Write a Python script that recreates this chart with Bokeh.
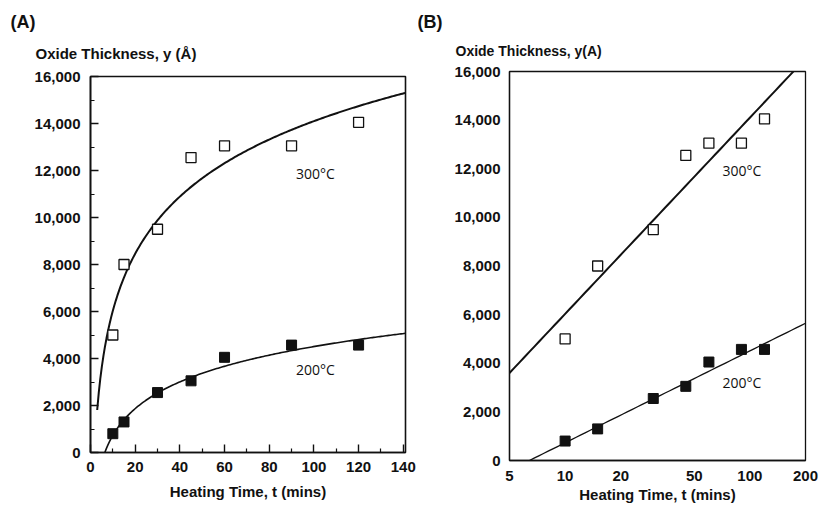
import numpy as np
from bokeh.plotting import figure
from bokeh.models import Range1d, Label, Title, FixedTicker, NumeralTickFormatter, PrintfTickFormatter
from bokeh.embed import file_html
from bokeh.resources import INLINE

# ---- data ----
time_min = [10, 15, 30, 45, 60, 90, 120]
thick_300 = [5000, 8000, 9500, 12550, 13050, 13050, 14050]
thick_200 = [800, 1300, 2550, 3050, 4050, 4570, 4570]

# logarithmic fits  y = a + b*ln(t)
fit_300_a, fit_300_b = -2041.0, 3505.0
fit_200_a, fit_200_b = -3049.0, 1641.0
fit_300_tstart = 3.0
fit_200_tstart = 6.41

y_ticks = [0, 2000, 4000, 6000, 8000, 10000, 12000, 14000, 16000]
y_minor = [1000, 3000, 5000, 7000, 9000, 11000, 13000, 15000]
xa_ticks = [0, 20, 40, 60, 80, 100, 120, 140]
xa_minor = [10, 30, 50, 70, 90, 110, 130]
xb_ticks = [5, 10, 20, 50, 100, 200]

y_title_a = "Oxide Thickness, y (Å)"
y_title_b = "Oxide Thickness, y(A)"
x_title = "Heating Time, t (mins)"
lab_300 = "300°C"
lab_200 = "200°C"

BOLD = "Liberation Sans"
INK = "#111111"
H = 505


def style(p):
    p.grid.visible = False
    p.outline_line_color = INK
    p.outline_line_width = 1.6
    p.background_fill_color = "white"
    p.border_fill_color = "white"
    for ax in (p.xaxis[0], p.yaxis[0]):
        ax.axis_line_color = INK
        ax.axis_line_width = 1.6
        ax.major_tick_line_color = INK
        ax.minor_tick_line_color = INK
        ax.major_tick_line_width = 1.4
        ax.minor_tick_line_width = 1.2
        ax.major_tick_out = 0
        ax.minor_tick_out = 0
        ax.major_label_text_font = BOLD
        ax.major_label_text_font_style = "bold"
        ax.major_label_text_font_size = "15px"
        ax.major_label_text_color = INK
    xa = p.xaxis[0]
    xa.axis_label = x_title
    xa.axis_label_text_font = BOLD
    xa.axis_label_text_font_style = "bold"
    xa.axis_label_text_font_size = "15px"
    xa.axis_label_text_color = INK


def add_titles(p, tag, toff, ytitle, ysize, ystand, yoff):
    # outer title (panel tag), then the y-axis caption next to the frame
    p.title = Title(text=tag, align="left", offset=toff, standoff=0,
                    vertical_align="bottom",
                    text_font=BOLD, text_font_style="bold", text_font_size="18px",
                    text_color=INK)
    p.add_layout(Title(text=ytitle, align="left", offset=yoff, standoff=ystand,
                       vertical_align="top",
                       text_font=BOLD, text_font_style="bold", text_font_size=ysize,
                       text_color=INK), "above")


def add_note(p, text, x, y):
    p.add_layout(Label(x=x, y=y, text=text, text_font="Open Sans", text_font_size="14px",
                       text_color=INK, text_align="left", text_baseline="middle"))


# ---------------- Panel A (linear) ----------------
pa = figure(width=418, height=H, output_backend="svg", toolbar_location=None,
            x_range=Range1d(0, 141), y_range=Range1d(0, 16000),
            min_border_left=90, min_border_right=13, min_border_top=76,
            min_border_bottom=H - 452)
style(pa)
add_titles(pa, "(A)", -80, y_title_a, "15px", 26, -55)
pa.yaxis[0].ticker = FixedTicker(ticks=y_ticks, minor_ticks=y_minor)
pa.xaxis[0].ticker = FixedTicker(ticks=xa_ticks, minor_ticks=xa_minor)
pa.yaxis[0].formatter = NumeralTickFormatter(format="0,0")
for ax in (pa.xaxis[0], pa.yaxis[0]):
    ax.major_tick_in = 8
    ax.minor_tick_in = 4
pa.yaxis[0].major_label_standoff = 10
pa.xaxis[0].major_label_standoff = 9
pa.xaxis[0].axis_label_standoff = 8

ta3 = np.linspace(fit_300_tstart, 141, 200)
ta2 = np.linspace(fit_200_tstart, 141, 200)
pa.line(ta3, fit_300_a + fit_300_b * np.log(ta3), line_color=INK, line_width=2)
pa.line(ta2, fit_200_a + fit_200_b * np.log(ta2), line_color=INK, line_width=1.6)
pa.scatter(time_min, thick_300, marker="square", size=10, fill_color="white",
           line_color=INK, line_width=1.3)
pa.scatter(time_min, thick_200, marker="square", size=10, fill_color=INK,
           line_color=INK, line_width=1)

add_note(pa, lab_300, 92, 11870)
add_note(pa, lab_200, 92, 3520)

# ---------------- Panel B (log x) ----------------
pb = figure(width=401, height=H, output_backend="svg", toolbar_location=None,
            x_axis_type="log", x_range=Range1d(5, 200), y_range=Range1d(0, 16000),
            min_border_left=91, min_border_right=14, min_border_top=71,
            min_border_bottom=H - 460)
style(pb)
add_titles(pb, "(B)", -92, y_title_b, "14px", 22, -54)
pb.outline_line_width = 1.3
for ax in (pb.xaxis[0], pb.yaxis[0]):
    ax.axis_line_width = 1.3
    ax.major_tick_in = 0
    ax.minor_tick_in = 0
pb.yaxis[0].ticker = FixedTicker(ticks=y_ticks, minor_ticks=[])
pb.xaxis[0].ticker = FixedTicker(ticks=xb_ticks, minor_ticks=[])
pb.yaxis[0].formatter = NumeralTickFormatter(format="0,0")
pb.xaxis[0].formatter = PrintfTickFormatter(format="%d")
pb.yaxis[0].major_label_standoff = 9
pb.xaxis[0].major_label_standoff = 10
pb.xaxis[0].axis_label_standoff = 2

tb = np.geomspace(5, 200, 60)
pb.line(tb, fit_300_a + fit_300_b * np.log(tb), line_color=INK, line_width=2)
tb2 = np.geomspace(fit_200_tstart, 200, 60)
pb.line(tb2, fit_200_a + fit_200_b * np.log(tb2), line_color=INK, line_width=1.3)
pb.scatter(time_min, thick_300, marker="square", size=10, fill_color="white",
           line_color=INK, line_width=1.3)
pb.scatter(time_min, thick_200, marker="square", size=10, fill_color=INK,
           line_color=INK, line_width=1)

add_note(pb, lab_300, 71.1, 11908)
add_note(pb, lab_200, 71.1, 3192)

# place the two independent panels side by side (no frame alignment)
pa.styles = {"position": "absolute", "left": "0px", "top": "0px"}
pb.styles = {"position": "absolute", "left": "418px", "top": "0px"}

open("out.html", "w").write(file_html([pa, pb], INLINE))
